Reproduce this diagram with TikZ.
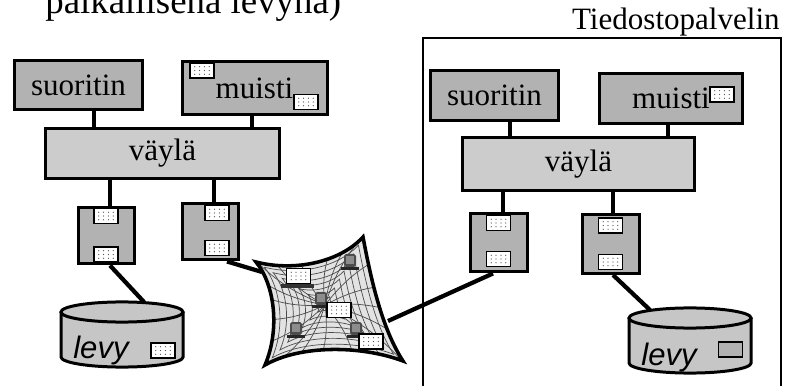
\documentclass[tikz,border=0pt]{standalone}
\usepackage{fontspec}
\setmainfont{Liberation Serif}
\newfontfamily\levyfont{Liberation Sans}
\usetikzlibrary{calc}

\newcommand\unitfont{\fontsize{17.6}{20}\selectfont}

\begin{document}
\begin{tikzpicture}[x=0.5669pt,y=-0.5669pt,
  unit/.style={draw,line width=1.7pt,fill=gray!60,inner sep=0pt,font=\unitfont},
  busbox/.style={unit,fill=gray!40},
  ctl/.style={draw,line width=1.7pt,fill=gray!60,inner sep=0pt,minimum width=32.3pt,minimum height=32.3pt},
  patch/.style={draw,line width=0.6pt,fill=white,inner sep=0pt,minimum width=13.6pt,minimum height=8.5pt,
    path picture={\foreach \i in {1,...,4} \foreach \j in {1,2,3}
      \fill[black!70] ($(path picture bounding box.south west)+(\i*2.72pt,\j*2.125pt)$) circle (0.35pt);}},
  link/.style={line width=2.4pt},
  disk/.style={draw,line width=1.7pt,fill=gray!45},
  netgrid/.style={black!70,line width=0.4pt}]

  \useasboundingbox (0,0) rectangle (786,386);

  % heading line, cut at the top
  \node[anchor=base west,font=\fontsize{20.9}{24}\selectfont,inner sep=0pt] (title) at (45,13.5) {paikallisena levynä)};

  % server frame
  \node[anchor=base east,font=\unitfont,inner sep=0pt] (srvlabel) at (780,30) {Tiedostopalvelin};
  \draw[line width=1.6pt] (423,392) -- (423,38) -- (781,38) -- (781,392);

  % workstation
  \node[unit,minimum width=73.1pt,minimum height=28.3pt] (cpuA) at (78.5,85) {suoritin};
  \node[unit,minimum width=82.2pt,minimum height=29.5pt] (memA) at (254.5,88) {muisti};
  \node[busbox,minimum width=132.1pt,minimum height=28.9pt] (busA) at (162.5,153.5) {väylä};
  \node[ctl] (ctlA1) at (106.5,235.5) {};
  \node[ctl] (ctlA2) at (210.5,231.5) {};

  % server
  \node[unit,minimum width=73.1pt,minimum height=28.9pt] (cpuB) at (494.5,95.5) {suoritin};
  \node[unit,minimum width=81.6pt,minimum height=28.9pt] (memB) at (671,98.5) {muisti};
  \node[busbox,minimum width=131pt,minimum height=29.5pt] (busB) at (578.5,164) {väylä};
  \node[ctl,minimum height=33.4pt] (ctlB1) at (499,242.5) {};
  \node[ctl,minimum height=33.4pt] (ctlB2) at (611,244) {};

  % disks
  \draw[disk] (61,312) -- (61,357) arc[start angle=180,end angle=360,x radius=34.6pt,y radius=5.7pt] -- (183,312);
  \draw[disk] (122,312) ellipse[x radius=34.6pt,y radius=5.7pt];
  \node[anchor=base west,font=\levyfont\itshape\unitfont,inner sep=0pt] (levyA) at (73,358) {levy};
  \coordinate (diskA) at (144,302);

  \draw[disk] (629,318) -- (629,363) arc[start angle=180,end angle=360,x radius=34.6pt,y radius=5.7pt] -- (751,318);
  \draw[disk] (690,318) ellipse[x radius=34.6pt,y radius=5.7pt];
  \node[anchor=base west,font=\levyfont\itshape\unitfont,inner sep=0pt] (levyB) at (641,365) {levy};
  \coordinate (diskB) at (650,310);
  \node[draw,line width=0.6pt,fill=gray!60,minimum width=13.6pt,minimum height=8.5pt,inner sep=0pt] (blockB) at (730.5,349.5) {};

  % cached blocks
  \node[patch] (memA1) at (202,70.5) {};
  \node[patch] (memA2) at (306,102) {};
  \node[patch] (memB1) at (722,94.5) {};
  \node[patch] (ctlA1a) at (106,216) {};
  \node[patch] (ctlA1b) at (106,254.5) {};
  \node[patch] (ctlA2a) at (217,213) {};
  \node[patch] (ctlA2b) at (217,248) {};
  \node[patch] (ctlB1a) at (498.5,223) {};
  \node[patch] (ctlB1b) at (498.5,259) {};
  \node[patch] (ctlB2a) at (610.5,225.5) {};
  \node[patch] (ctlB2b) at (610.5,262) {};
  \node[patch] (blockA) at (163,350.5) {};

  % buses
  \draw[link] (cpuA.south -| 94,0) -- (busA.north -| 94,0);
  \draw[link] (memA.south -| 252,0) -- (busA.north -| 252,0);
  \draw[link] (busA.south -| 110,0) -- (ctlA1.north -| 110,0);
  \draw[link] (busA.south -| 214,0) -- (ctlA2.north -| 214,0);
  \draw[link] (ctlA1.south -| 110,0) -- (diskA);
  \draw[link] (cpuB.south -| 510,0) -- (busB.north -| 510,0);
  \draw[link] (memB.south -| 668,0) -- (busB.north -| 668,0);
  \draw[link] (busB.south -| 503,0) -- (ctlB1.north -| 503,0);
  \draw[link] (busB.south -| 613,0) -- (ctlB2.north -| 613,0);
  \draw[link] (ctlB2.south -| 613,0) -- (diskB);

  % network
  \coordinate (netW) at (262,272);
  \coordinate (netE) at (388,321);
  \draw[link] (ctlA2.south -| 227,0) -- (netW);
  \draw[link] (netE) -- (ctlB1.south -| 493,0);

  \begin{scope}
    \path[clip] (256,262) .. controls (295,272) and (340,262) .. (363,237)
      .. controls (372,285) and (383,330) .. (403,361)
      .. controls (360,345) and (300,345) .. (265,365)
      .. controls (280,330) and (275,285) .. cycle;
    \fill[gray!22] (250,230) rectangle (410,370);
    \foreach \s in {0.12,0.25,0.38,0.5,0.62,0.75,0.88}
      \draw[netgrid,scale around={\s:(325,305)}] (256,262) .. controls (295,272) and (340,262) .. (363,237)
        .. controls (372,285) and (383,330) .. (403,361)
        .. controls (360,345) and (300,345) .. (265,365)
        .. controls (280,330) and (275,285) .. cycle;
    \foreach \a/\b in {250/255,275/262,300/260,330/250,350/240,370/228,385/255,395/285,405/315,410/345,410/370,385/362,355/360,320/362,290/366,265/372,262/345,262/320,258/295,252/275}
      \draw[netgrid] (325,305) to[bend left=12] (\a,\b);
  \end{scope}
  \draw[line width=2pt,line join=miter] (256,262) .. controls (295,272) and (340,262) .. (363,237)
    .. controls (372,285) and (383,330) .. (403,361)
    .. controls (360,345) and (300,345) .. (265,365)
    .. controls (280,330) and (275,285) .. cycle;

  % machines on the net
  \foreach \a/\b in {350/262,296/330,321/300,356/330} {
    \fill[black!70,rounded corners=1pt] (\a-6,\b-8) rectangle (\a+6,\b+5);
    \fill[black!45] (\a-4,\b-6) rectangle (\a+4,\b+2);
    \fill[black!85] (\a-9,\b+5) rectangle (\a+9,\b+8);
  }
  \fill[black!80] (281,284) rectangle (314,288);
  \node[patch] (netP1) at (298.5,276) {};
  \node[patch] (netP2) at (339,310) {};
  \node[patch] (netP3) at (371,341.5) {};

\end{tikzpicture}
\end{document}
